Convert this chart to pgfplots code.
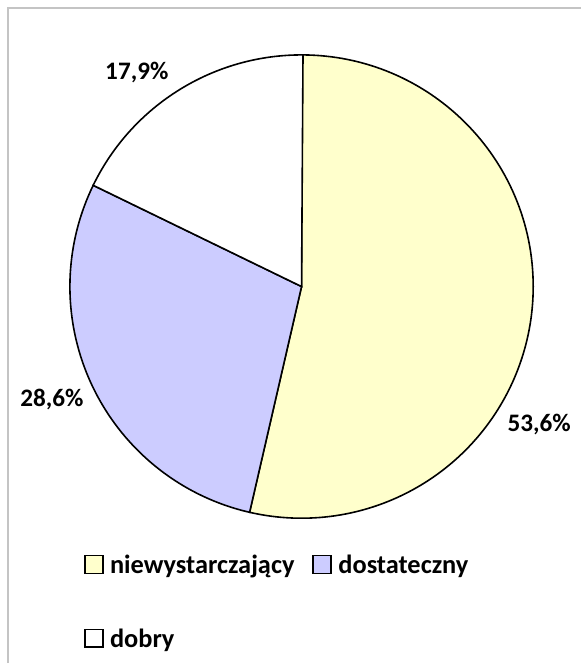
\documentclass[border=0pt]{standalone}
\usepackage{pgfplots}
\pgfplotsset{compat=1.18}
\usepackage{fontspec}
\setmainfont{Carlito}
\definecolor{yel}{HTML}{FFFFCC}
\definecolor{lav}{HTML}{CCCCFF}
\definecolor{frm}{HTML}{C4C4C4}
\begin{document}
\begin{tikzpicture}
\def\vA{53.6}\def\vB{28.6}\def\vC{17.9}
\pgfmathsetmacro\aA{90}
\pgfmathsetmacro\aB{\aA-3.6*\vA}
\pgfmathsetmacro\aC{\aB-3.6*\vB}
\pgfmathsetmacro\aD{\aC-3.6*\vC}
\begin{axis}[width=582bp,height=664bp,scale only axis,hide axis,
  xmin=0,xmax=582,ymin=0,ymax=664,clip=false,
  legend columns=2,
  legend cell align=left,
  legend style={draw=none, fill=none, font=\bfseries\fontsize{26.5}{30}\selectfont,
    at={(axis cs:84,112)}, anchor=north west, row sep=50bp, inner xsep=0pt,
    /tikz/every even column/.append style={column sep=16bp}},
  legend image code/.code={\path[draw=none,fill=none] (0bp,0bp) -- (24bp,0bp);
    \draw[#1, line width=1.5bp] (0.75bp,-8bp) rectangle (18.75bp,10bp);}]
\path (axis cs:0,0) rectangle (axis cs:582,664);
\draw[frm, line width=2bp] (axis cs:8,0) -- (axis cs:8,656) -- (axis cs:582,656);
\filldraw[fill=yel, draw=black, line width=1.6bp] (axis cs:302,377) -- ++(\aA:232bp) arc[start angle=\aA, end angle=\aB, radius=232bp] -- cycle;
\filldraw[fill=lav, draw=black, line width=1.6bp] (axis cs:302,377) -- ++(\aB:232bp) arc[start angle=\aB, end angle=\aC, radius=232bp] -- cycle;
\filldraw[fill=white, draw=black, line width=1.6bp] (axis cs:302,377) -- ++(\aC:232bp) arc[start angle=\aC, end angle=\aD, radius=232bp] -- cycle;
\node[font=\bfseries\fontsize{25.3}{28}\selectfont] at (axis cs:540,239) {53,6\%};
\node[font=\bfseries\fontsize{25.3}{28}\selectfont] at (axis cs:52,264) {28,6\%};
\node[font=\bfseries\fontsize{25.3}{28}\selectfont] at (axis cs:137,591) {17,9\%};
\addlegendimage{fill=yel,draw=black}
\addlegendentry{niewystarczający}
\addlegendimage{fill=lav,draw=black}
\addlegendentry{dostateczny}
\addlegendimage{fill=white,draw=black}
\addlegendentry{dobry}
\end{axis}
\end{tikzpicture}
\end{document}
